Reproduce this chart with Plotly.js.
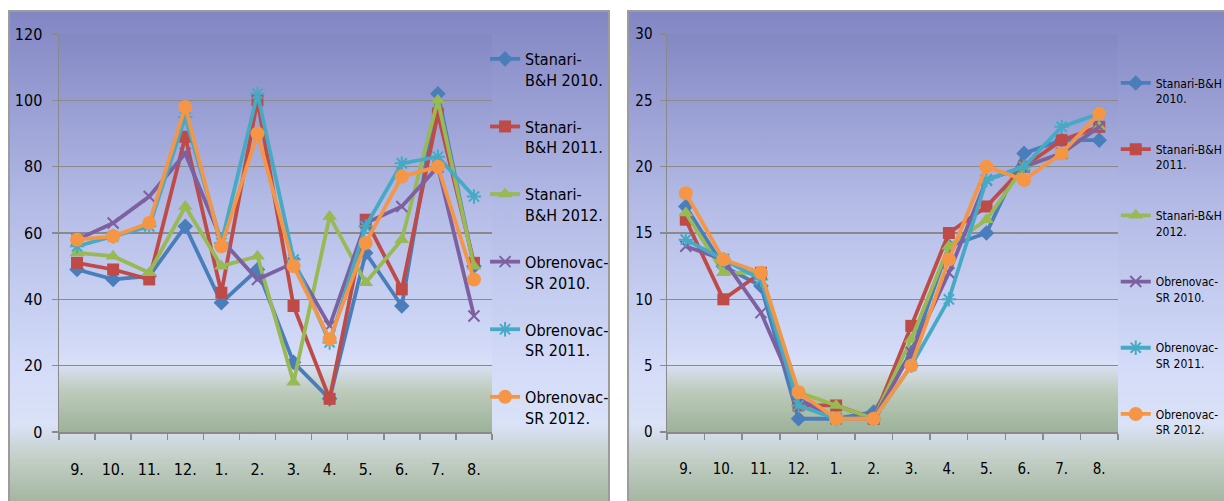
<!DOCTYPE html>
<html>
<head>
<meta charset="utf-8">
<script src="https://cdn.plot.ly/plotly-3.0.1.min.js"></script>
<style>
  html, body { margin:0; padding:0; width:1224px; height:501px; overflow:hidden; background:#ffffff; }
  .panel { position:absolute; box-sizing:border-box; border:2px solid #9c9c9c;
    background: linear-gradient(to bottom, #8286c3 0%, #b3bbe6 40%, #d3dbf8 72%, #dae2f7 84%, #c3cfc6 91%, #a3b5a0 100%); }
  .plot { position:absolute; }
</style>
</head>
<body>
<div class="panel" style="left:8px; top:10px; width:602px; height:495px;"></div>
<div class="panel" style="left:627px; top:10px; width:603px; height:495px;"></div>
<div id="left" class="plot" style="left:8px; top:10px; width:602px; height:491px;"></div>
<div id="right" class="plot" style="left:627px; top:10px; width:597px; height:491px;"></div>
<script>
// ---- data ----
const months = ['9.','10.','11.','12.','1.','2.','3.','4.','5.','6.','7.','8.'];

const seriesNamesLeft = ['Stanari-<br>B&H 2010.','Stanari-<br>B&H 2011.','Stanari-<br>B&H 2012.',
                         'Obrenovac-<br>SR 2010.','Obrenovac-<br>SR 2011.','Obrenovac-<br>SR 2012.'];
const seriesNamesRight = ['Stanari-B&H<br>2010.','Stanari-B&H<br>2011.','Stanari-B&H<br>2012.',
                          'Obrenovac-<br>SR 2010.','Obrenovac-<br>SR 2011.','Obrenovac-<br>SR 2012.'];

// left chart values
const leftStanari2010   = [49, 46, 47, 62, 39, 49, 21, 10, 54, 38, 102, 50];
const leftStanari2011   = [51, 49, 46, 89, 42, 100, 38, 10, 64, 43, 96, 51];
const leftStanari2012   = [54, 53, 48, 68, 50, 53, 15, 65, 45, 58, 100, 50];
const leftObrenovac2010 = [58, 63, 71, 84, 58, 46, 51, 32, 63, 68, 80, 35];
const leftObrenovac2011 = [56, 59, 62, 95, 57, 102, 52, 27, 62, 81, 83, 71];
const leftObrenovac2012 = [58, 59, 63, 98, 56, 90, 50, 28, 57, 77, 80, 46];

// right chart values
const rightStanari2010   = [17, 12.5, 11, 1, 1, 1.5, 6, 14, 15, 21, 22, 22];
const rightStanari2011   = [16, 10, 12, 2, 2, 1, 8, 15, 17, 20, 22, 23];
const rightStanari2012   = [16.5, 12, 12, 3, 2, 1, 7, 14, 16, 20, 21, 23];
const rightObrenovac2010 = [14, 13, 9, 2.5, 1, 1, 6, 12, 19, 20, 21, 23];
const rightObrenovac2011 = [14.5, 13, 11.5, 2, 1, 1, 5, 10, 19, 20, 23, 24];
const rightObrenovac2012 = [18, 13, 12, 3, 1, 1, 5, 13, 20, 19, 21, 24];

// ---- styles ----
const colors  = ['#4a7ebb','#be4b48','#98b954','#7d60a0','#46aac5','#f59646'];
const symbols = ['diamond','square','triangle-up','x-thin-open','asterisk-open','circle'];
const msizes  = [12, 12, 13, 11, 12, 14];
const FONT = 'DejaVu Sans Condensed, Liberation Sans Narrow, sans-serif';

function gradientImage() {
  const svg = "<svg xmlns='http://www.w3.org/2000/svg' width='100' height='100' preserveAspectRatio='none'>" +
    "<defs><linearGradient id='g' x1='0' y1='0' x2='0' y2='1'>" +
    "<stop offset='0' stop-color='#8388c4'/><stop offset='0.45' stop-color='#b6bee8'/>" +
    "<stop offset='0.80' stop-color='#d3dbf8'/><stop offset='0.83' stop-color='#dae1f6'/>" +
    "<stop offset='0.90' stop-color='#bccab9'/><stop offset='1' stop-color='#9cb299'/>" +
    "</linearGradient></defs><rect width='100' height='100' fill='url(#g)'/></svg>";
  return 'data:image/svg+xml;charset=utf-8,' + encodeURIComponent(svg);
}

function makeTraces(dataArrays, names) {
  return dataArrays.map((ys, i) => ({
    type: 'scatter', mode: 'lines+markers', x: months, y: ys, name: names[i],
    legendgroup: 'g' + i,
    line: { color: colors[i], width: 3.8 },
    marker: { symbol: symbols[i], size: msizes[i], color: colors[i],
              line: { color: colors[i], width: (i === 3 || i === 4) ? 2 : 0 } },
    cliponaxis: false
  }));
}

function makeLayout(opt) {
  return {
    width: opt.width, height: 491,
    margin: opt.margin,
    paper_bgcolor: 'rgba(0,0,0,0)', plot_bgcolor: 'rgba(0,0,0,0)',
    font: { family: FONT, color: '#000000', size: opt.fontSize },
    showlegend: true,
    legend: { x: opt.legendX, y: opt.legendY, xanchor: 'left', yanchor: 'top',
              bgcolor: 'rgba(0,0,0,0)', font: { family: FONT, size: opt.legendFont, color: '#000' },
              traceorder: 'grouped', tracegroupgap: opt.groupGap, valign: 'top', itemwidth: 30 },
    xaxis: { type: 'category', range: [-0.5, 11.5], showgrid: false, zeroline: false,
             showline: true, linecolor: '#8a8a8a', linewidth: 1.5, tickangle: 0, automargin: false,
             ticks: 'outside', tickson: 'boundaries', ticklen: 6, tickcolor: '#8a8a8a', tickwidth: 1.5,
             ticklabelstandoff: opt.xStandoff, tickfont: { family: FONT, size: opt.fontSize } },
    yaxis: { range: opt.yRange, dtick: opt.dtick, showgrid: true, gridcolor: '#8a8a8a', gridwidth: 1.5,
             zeroline: false, showline: true, linecolor: '#8a8a8a', linewidth: 1.5, automargin: false,
             ticks: 'outside', ticklen: 6, tickcolor: '#8a8a8a', tickwidth: 1.5,
             ticklabelstandoff: opt.yStandoff, tickfont: { family: FONT, size: opt.fontSize } },
    images: [{ source: gradientImage(), xref: 'paper', yref: 'paper', x: 0, y: 1,
               sizex: 1, sizey: 1, xanchor: 'left', yanchor: 'top', sizing: 'stretch', layer: 'below' }]
  };
}

Plotly.newPlot('left',
  makeTraces([leftStanari2010, leftStanari2011, leftStanari2012,
              leftObrenovac2010, leftObrenovac2011, leftObrenovac2012], seriesNamesLeft),
  makeLayout({ width: 602, margin: { l: 51, r: 118, t: 24, b: 69, pad: 0, autoexpand: false },
               yRange: [0, 120], dtick: 20, fontSize: 16, legendFont: 16,
               legendX: 0.984, legendY: 0.98, groupGap: 23, xStandoff: 22, yStandoff: 6 }),
  { staticPlot: true, displayModeBar: false });

Plotly.newPlot('right',
  makeTraces([rightStanari2010, rightStanari2011, rightStanari2012,
              rightObrenovac2010, rightObrenovac2011, rightObrenovac2012], seriesNamesRight),
  makeLayout({ width: 597, margin: { l: 40, r: 106, t: 24, b: 69, pad: 0, autoexpand: false },
               yRange: [0, 30], dtick: 5, fontSize: 15, legendFont: 12,
               legendX: 0.995, legendY: 0.913, groupGap: 32, xStandoff: 22, yStandoff: 4 }),
  { staticPlot: true, displayModeBar: false });
</script>
</body>
</html>
